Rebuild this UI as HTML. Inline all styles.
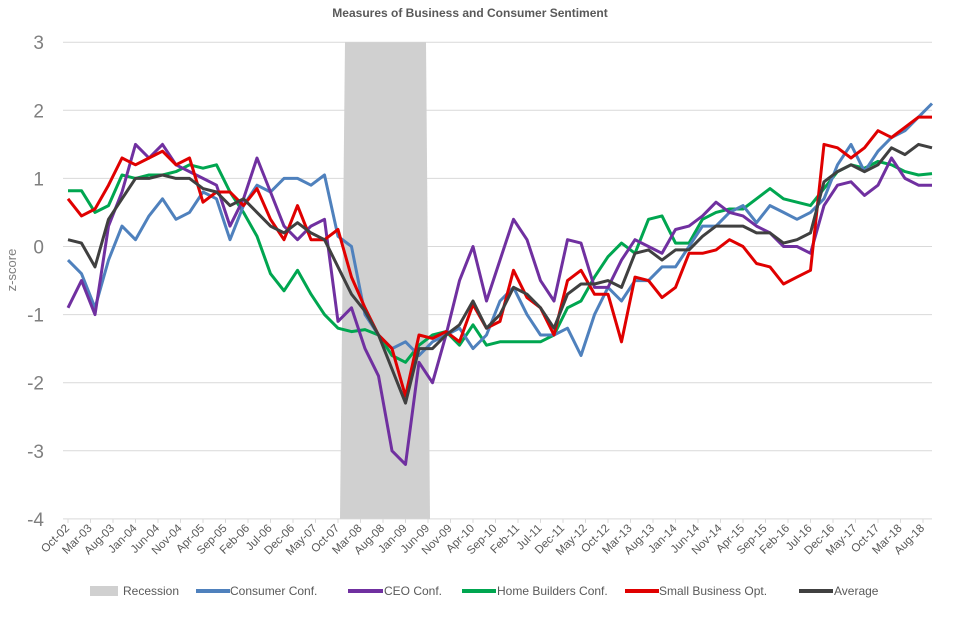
<!DOCTYPE html>
<html><head><meta charset="utf-8"><style>
body{margin:0;background:#fff;font-family:"Liberation Sans",sans-serif}
svg{display:block}
</style></head><body>
<svg id="chart" width="977" height="622">
<text x="470" y="17" text-anchor="middle" font-size="12" font-weight="bold" fill="#595959">Measures of Business and Consumer Sentiment</text>
<text transform="translate(16,270) rotate(-90)" text-anchor="middle" font-size="13" fill="#7f7f7f">z-score</text>
<g id="grid"></g><g id="rec"></g><g id="series"></g><g id="xt"></g>
<g font-size="12" fill="#595959">
<rect x="90" y="586" width="28" height="10" fill="#d0d0d0"/><text x="123" y="595">Recession</text>
<line x1="196" y1="591" x2="230" y2="591" stroke="#4f81bd" stroke-width="4"/><text x="230" y="595">Consumer Conf.</text>
<line x1="348" y1="591" x2="383" y2="591" stroke="#7030a0" stroke-width="4"/><text x="384" y="595">CEO Conf.</text>
<line x1="462" y1="591" x2="496" y2="591" stroke="#00a650" stroke-width="4"/><text x="497" y="595">Home Builders Conf.</text>
<line x1="625" y1="591" x2="659" y2="591" stroke="#e00000" stroke-width="4"/><text x="659" y="595">Small Business Opt.</text>
<line x1="799" y1="591" x2="833" y2="591" stroke="#404040" stroke-width="4"/><text x="834" y="595">Average</text>
</g>
</svg>
<script>
const monthStep = 3;
const consumer = [-0.2,-0.4,-0.9,-0.2,0.3,0.1,0.45,0.7,0.4,0.5,0.8,0.7,0.1,0.6,0.9,0.8,1.0,1.0,0.9,1.05,0.15,0.0,-1.0,-1.3,-1.5,-1.4,-1.6,-1.4,-1.3,-1.2,-1.5,-1.3,-0.8,-0.6,-1.0,-1.3,-1.3,-1.2,-1.6,-1.0,-0.6,-0.8,-0.5,-0.5,-0.3,-0.3,0.0,0.3,0.3,0.5,0.6,0.35,0.6,0.5,0.4,0.5,0.7,1.2,1.5,1.1,1.4,1.6,1.7,1.9,2.1];
const ceo = [-0.9,-0.5,-1.0,0.3,0.8,1.5,1.3,1.5,1.2,1.1,1.0,0.9,0.3,0.7,1.3,0.8,0.3,0.1,0.3,0.4,-1.1,-0.9,-1.5,-1.9,-3.0,-3.2,-1.7,-2.0,-1.3,-0.5,0.0,-0.8,-0.2,0.4,0.1,-0.5,-0.8,0.1,0.05,-0.6,-0.6,-0.2,0.1,0.0,-0.1,0.25,0.3,0.45,0.65,0.5,0.45,0.3,0.2,0.0,0.0,-0.1,0.6,0.9,0.95,0.75,0.9,1.3,1.0,0.9,0.9];
const homeBuilders = [0.82,0.82,0.5,0.6,1.05,1.0,1.05,1.05,1.1,1.2,1.15,1.2,0.8,0.5,0.15,-0.4,-0.65,-0.35,-0.7,-1.0,-1.2,-1.25,-1.22,-1.3,-1.6,-1.7,-1.45,-1.3,-1.25,-1.45,-1.15,-1.45,-1.4,-1.4,-1.4,-1.4,-1.3,-0.9,-0.8,-0.45,-0.15,0.05,-0.1,0.4,0.45,0.05,0.05,0.4,0.5,0.55,0.55,0.7,0.85,0.7,0.65,0.6,0.85,1.1,1.2,1.15,1.25,1.2,1.1,1.05,1.07];
const smallBusiness = [0.7,0.45,0.55,0.9,1.3,1.2,1.3,1.4,1.2,1.3,0.65,0.8,0.8,0.6,0.85,0.4,0.1,0.6,0.1,0.1,0.25,-0.45,-0.9,-1.3,-1.5,-2.2,-1.3,-1.35,-1.25,-1.4,-0.85,-1.2,-1.1,-0.35,-0.75,-0.9,-1.3,-0.5,-0.35,-0.7,-0.7,-1.4,-0.45,-0.5,-0.75,-0.6,-0.1,-0.1,-0.05,0.1,0.0,-0.25,-0.3,-0.55,-0.45,-0.35,1.5,1.45,1.3,1.45,1.7,1.6,1.75,1.9,1.9];
const average = [0.1,0.05,-0.3,0.4,0.7,1.0,1.0,1.05,1.0,1.0,0.85,0.8,0.6,0.7,0.5,0.3,0.2,0.35,0.2,0.1,-0.3,-0.7,-0.95,-1.3,-1.8,-2.3,-1.5,-1.5,-1.3,-1.15,-0.8,-1.2,-1.0,-0.6,-0.7,-0.9,-1.2,-0.7,-0.55,-0.55,-0.5,-0.6,-0.1,-0.05,-0.2,-0.05,-0.05,0.15,0.3,0.3,0.3,0.2,0.2,0.05,0.1,0.2,0.95,1.1,1.2,1.1,1.2,1.45,1.35,1.5,1.45];
const yTicks = [3,2,1,0,-1,-2,-3,-4];
const xLabels = ["Oct-02","Mar-03","Aug-03","Jan-04","Jun-04","Nov-04","Apr-05","Sep-05","Feb-06","Jul-06","Dec-06","May-07","Oct-07","Mar-08","Aug-08","Jan-09","Jun-09","Nov-09","Apr-10","Sep-10","Feb-11","Jul-11","Dec-11","May-12","Oct-12","Mar-13","Aug-13","Jan-14","Jun-14","Nov-14","Apr-15","Sep-15","Feb-16","Jul-16","Dec-16","May-17","Oct-17","Mar-18","Aug-18"];
const labelStep = 5;
const recessionStart = 62, recessionEnd = 80;

const NS = "http://www.w3.org/2000/svg";
const X = m => 68 + m * 4.5;
const Y = v => 246.5 - v * 68.1;
function mk(tag, attrs, parent){const e=document.createElementNS(NS,tag);for(const k in attrs)e.setAttribute(k,attrs[k]);parent.appendChild(e);return e;}
const grid = document.getElementById('grid');
yTicks.forEach(t=>{
  const l = mk('line',{x1:63,x2:932,y1:Y(t),y2:Y(t),stroke:'#d9d9d9','stroke-width':1},grid);
  
  
  const tx = mk('text',{x:44,y:Y(t)+7,'text-anchor':'end','font-size':19,fill:'#7f7f7f'},grid);
  tx.textContent = t;
  
  
});
const rec = mk('polygon',{points:`${X(recessionStart)-2},${Y(3)} ${X(recessionEnd)-2},${Y(3)} ${X(recessionEnd)+2},${Y(-4)} ${X(recessionStart)-7},${Y(-4)}`,fill:'#d0d0d0'},document.getElementById('rec'));


const xt = document.getElementById('xt');
xLabels.forEach((lab,j)=>{
  const x = X(j*labelStep)+2;
  const tk = mk('line',{x1:x-2,x2:x-2,y1:Y(-4),y2:Y(-4)+4,stroke:'#d9d9d9'},xt);
  
  
  const t = mk('text',{transform:`translate(${x},${Y(-4)+10}) rotate(-45)`,'text-anchor':'end','font-size':11.5,fill:'#595959'},xt);
  t.textContent = lab;
  
  
});
const sg = document.getElementById('series');
[[homeBuilders,'#00a650','series-home-builders'],[consumer,'#4f81bd','series-consumer'],[ceo,'#7030a0','series-ceo'],[smallBusiness,'#e00000','series-small-business'],[average,'#404040','series-average']].forEach(([d,c,n])=>{
  const pts = d.map((v,i)=>X(i*monthStep).toFixed(1)+','+Y(v).toFixed(1)).join(' ');
  const p = mk('polyline',{points:pts,fill:'none',stroke:c,'stroke-width':3,'stroke-linejoin':'round'},sg);
  
  
});
</script>
</body></html>
